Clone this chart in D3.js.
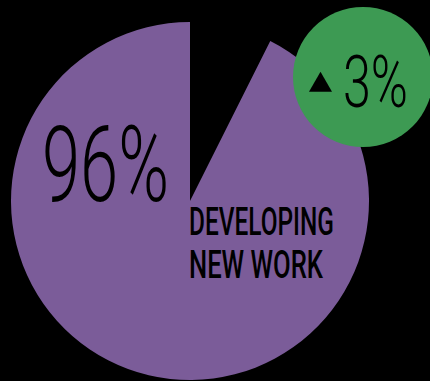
<!DOCTYPE html>
<html>
<head>
<meta charset="utf-8">
<script src="https://cdn.jsdelivr.net/npm/d3@7"></script>
<style>
  html, body { margin: 0; padding: 0; background: #000; }
  svg { display: block; }
</style>
</head>
<body>
<svg id="chart" width="430" height="381"></svg>
<script>
// shares as drawn (the visible gap)
var categories = ["DEVELOPING NEW WORK", "gap"];
var shares = [92.6, 7.4];
var headline = "96%";
var labelLines = ["DEVELOPING", "NEW WORK"];
var changeValue = "3%";
var changeUp = true;

var svg = d3.select("#chart"),
    width = 430,
    height = 381;

svg.append("rect").attr("width", width).attr("height", height).attr("fill", "#000");

var cx = 190, cy = 201, radius = 179;

// gap starts at 12 o'clock, purple wedge follows clockwise after it
var gapAngle = shares[1] / d3.sum(shares) * 2 * Math.PI;
var pie = d3.pie().sort(null).value(function(d) { return d; })
    .startAngle(gapAngle).endAngle(gapAngle + 2 * Math.PI);
var arc = d3.arc().innerRadius(0).outerRadius(radius);

var color = d3.scaleOrdinal().domain(categories).range(["#7b5c99", "none"]);

var g = svg.append("g").attr("transform", "translate(" + cx + "," + cy + ")");
g.selectAll("path")
  .data(pie(shares))
  .enter().append("path")
  .attr("d", arc)
  .attr("fill", function(d, i) { return color(categories[i]); });

var font = "Roboto, 'Liberation Sans', sans-serif";

// squeeze a text horizontally to a target width (condensed look)
function condense(sel, x, y, targetW) {
  var w = sel.node().getComputedTextLength();
  sel.attr("transform", "translate(" + x + "," + y + ") scale(" + (targetW / w) + ",1)");
}

// big percentage
var big = svg.append("text")
  .attr("font-family", font)
  .attr("font-weight", 300)
  .attr("font-size", 106)
  .attr("fill", "#000")
  .text(headline);
condense(big, 42, 201, 127);

// category label
var lineWidths = [145, 134];
var lineY = [235, 277.5];
var lbl = svg.append("g");
labelLines.forEach(function(line, i) {
  var t = lbl.append("text")
    .attr("font-family", font)
    .attr("font-weight", 500)
    .attr("font-size", 38)
    .attr("fill", "#000")
    .text(line);
  condense(t, 189, lineY[i], lineWidths[i]);
});

// change badge
svg.append("circle")
  .attr("cx", 363).attr("cy", 77).attr("r", 70)
  .attr("fill", "#3d9a53");

svg.append("path")
  .attr("d", d3.symbol().type(d3.symbolTriangle).size(230)())
  .attr("transform", "translate(320.5,85)" + (changeUp ? "" : " rotate(180)"))
  .attr("fill", "#000");

var chg = svg.append("text")
  .attr("font-family", font)
  .attr("font-weight", 300)
  .attr("font-size", 72)
  .attr("fill", "#000")
  .text(changeValue);
condense(chg, 343, 106.5, 65);
</script>
</body>
</html>
